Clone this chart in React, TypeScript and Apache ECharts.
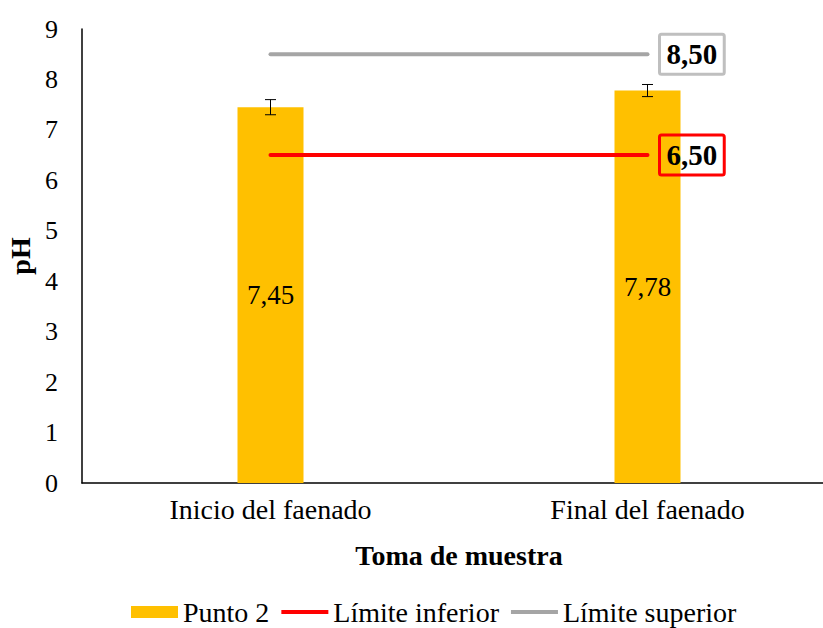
import React, { useEffect, useRef } from "react";
import * as echarts from "echarts";

const categories = ["Inicio del faenado", "Final del faenado"];
const punto2 = [7.45, 7.78];
const errores = [0.15, 0.12];
const limiteInferior = [6.5, 6.5];
const limiteSuperior = [8.5, 8.5];
const yTicks = { min: 0, max: 9, interval: 1 };

const FONT = "'Liberation Serif', 'Times New Roman', serif";
const fmt = (v: number) => v.toFixed(2).replace(".", ",");
const LINE_ICON = "path://M0,0H48V4H0Z";

export default function App() {
  const ref = useRef<HTMLDivElement>(null);
  useEffect(() => {
    document.body.style.margin = "0";
    const chart = echarts.init(ref.current!, null, { renderer: "svg" });
    const endLabel = (color: string) => ({
      show: true,
      distance: 12,
      formatter: (p: any) => fmt(Array.isArray(p.value) ? p.value[1] : p.value),
      fontFamily: FONT,
      fontWeight: "bold",
      fontSize: 29,
      lineHeight: 31,
      color: "#000",
      borderColor: color,
      borderWidth: 3,
      borderRadius: 2,
      padding: [5, 7, 4, 7],
    });
    chart.setOption({
      animation: false,
      grid: { left: 82, top: 29, width: 754, height: 454, outerBoundsMode: "none", containLabel: false },
      legend: {
        data: [
          { name: "Punto 2", icon: "rect" },
          { name: "Límite inferior", icon: LINE_ICON },
          { name: "Límite superior", icon: LINE_ICON },
        ],
        left: 126,
        top: 592,
        itemWidth: 47,
        itemHeight: 12,
        itemGap: 12,
        textStyle: { fontFamily: FONT, fontSize: 28, color: "#000", lineHeight: 30 },
      },
      xAxis: {
        type: "category",
        data: categories,
        axisLine: { show: true, lineStyle: { color: "#000", width: 1.5 } },
        axisTick: { show: false },
        axisLabel: { fontFamily: FONT, fontSize: 28, color: "#000", margin: 12 },
        name: "Toma de muestra",
        nameLocation: "middle",
        nameGap: 58,
        nameTextStyle: { fontFamily: FONT, fontSize: 28, fontWeight: "bold", color: "#000" },
      },
      yAxis: {
        type: "value",
        min: yTicks.min,
        max: yTicks.max,
        interval: yTicks.interval,
        axisLine: { show: true, lineStyle: { color: "#000", width: 1.5 } },
        axisTick: { show: false },
        splitLine: { show: false },
        axisLabel: { fontFamily: FONT, fontSize: 26, color: "#000", margin: 24 },
        name: "pH",
        nameLocation: "middle",
        nameRotate: 90,
        nameGap: 48,
        nameTextStyle: { fontFamily: FONT, fontSize: 28, fontWeight: "bold", color: "#000" },
      },
      series: [
        {
          name: "Punto 2",
          type: "bar",
          data: punto2,
          barWidth: 66,
          itemStyle: { color: "#FFC000" },
          label: {
            show: true,
            position: "inside",
            formatter: (p: any) => fmt(p.value),
            fontFamily: FONT,
            fontSize: 27,
            color: "#000",
          },
          z: 2,
        },
        {
          name: "Error",
          type: "custom",
          data: punto2.map((v, i) => [i, v, errores[i]]),
          z: 5,
          renderItem: (params: any, api: any) => {
            const i = api.value(0);
            const v = api.value(1);
            const e = api.value(2);
            const top = api.coord([i, v + e]);
            const bot = api.coord([i, v - e]);
            const hw = 5.5;
            const style = { stroke: "#000", lineWidth: 1 };
            return {
              type: "group",
              children: [
                { type: "line", shape: { x1: top[0], y1: top[1], x2: bot[0], y2: bot[1] }, style },
                { type: "line", shape: { x1: top[0] - hw, y1: top[1], x2: top[0] + hw, y2: top[1] }, style },
                { type: "line", shape: { x1: bot[0] - hw, y1: bot[1], x2: bot[0] + hw, y2: bot[1] }, style },
              ],
            };
          },
        },
        {
          name: "Límite inferior",
          type: "line",
          data: limiteInferior,
          symbol: "none",
          lineStyle: { color: "#FF0000", width: 4, cap: "round" },
          itemStyle: { color: "#FF0000" },
          endLabel: endLabel("#FF0000"),
          z: 4,
        },
        {
          name: "Límite superior",
          type: "line",
          data: limiteSuperior,
          symbol: "none",
          lineStyle: { color: "#A5A5A5", width: 4, cap: "round" },
          itemStyle: { color: "#A5A5A5" },
          endLabel: endLabel("#BFBFBF"),
          z: 4,
        },
      ],
    });
    return () => chart.dispose();
  }, []);
  return <div ref={ref} style={{ width: 823, height: 628 }} />;
}
